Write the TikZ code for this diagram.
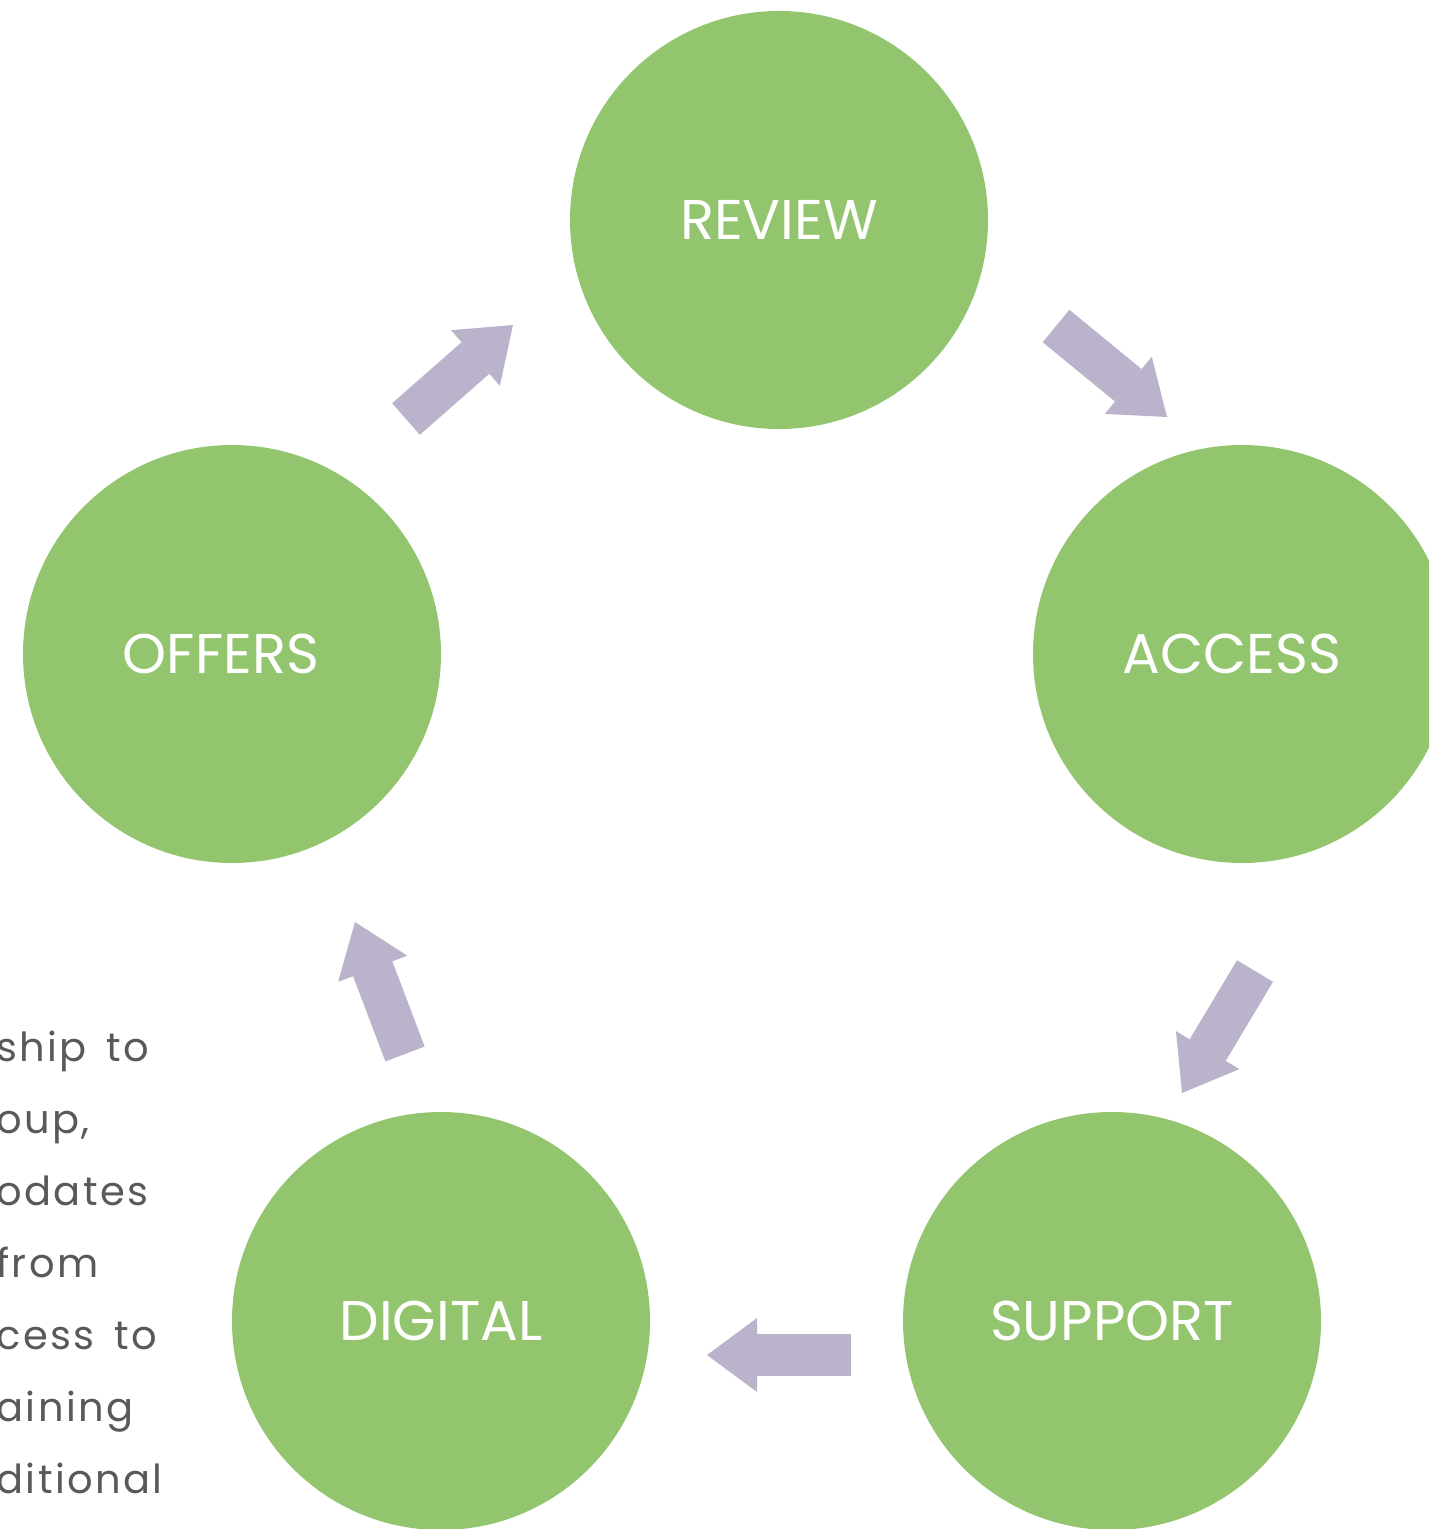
\documentclass[tikz,border=0pt]{standalone}
\usepackage{fontspec}
\setmainfont{Poppins}
\newfontfamily\notefont[LetterSpace=6, WordSpace=1.5]{Poppins}
\usetikzlibrary{arrows.meta,positioning,calc}
\definecolor{stagegreen}{HTML}{92C56E}
\definecolor{flowlilac}{HTML}{BBB3CB}
\definecolor{notegray}{HTML}{595959}

\begin{document}
\begin{tikzpicture}[x=0.5pt, y=-0.5pt,
    stage/.style={circle, fill=stagegreen, minimum size=209pt, inner sep=0pt,
      text=white, font=\fontsize{28pt}{30pt}\selectfont},
    flow/.style={flowlilac, line width=21pt,
      -{Triangle[width=37pt, length=25pt, line width=0pt]}}]
            \useasboundingbox (0,0) rectangle (1429,1529);
            \clip (0,0) rectangle (1429,1529);
            \node[stage] (R) at (779,220) {REVIEW};
            \node[stage] (A) at (1242,654) {ACCESS\kern10pt};
            \node[stage] (S) at (1112,1321) {SUPPORT};
            \node[stage] (D) at (441,1321) {DIGITAL};
            \node[stage] (O) at (232,654) {OFFERS\kern11pt};
            % arrow ends between the circles
            \coordinate (o1) at (406,419);   \coordinate (r1) at (513,325);
            \coordinate (r2) at (1056,326);  \coordinate (a2) at (1167,417);
            \coordinate (a3) at (1255,971);  \coordinate (s3) at (1182,1093);
            \coordinate (s4) at (851,1355);  \coordinate (d4) at (707,1355);
            \coordinate (d5) at (405,1054);  \coordinate (o5) at (355,922);
            \foreach\a/\b in {o1/r1, r2/a2, a3/s3, s4/d4, d5/o5}{
              \draw[flow] (\a) -- (\b);
            }
            \node[anchor=base west, align=left, text=notegray, inner sep=0pt,
              font=\notefont\fontsize{20pt}{36pt}\selectfont] (note) at (-4,1493)
              {ship to\\oup,\\odates\\from\\cess to\\aining\\ditional};
          \end{tikzpicture}
\end{document}
